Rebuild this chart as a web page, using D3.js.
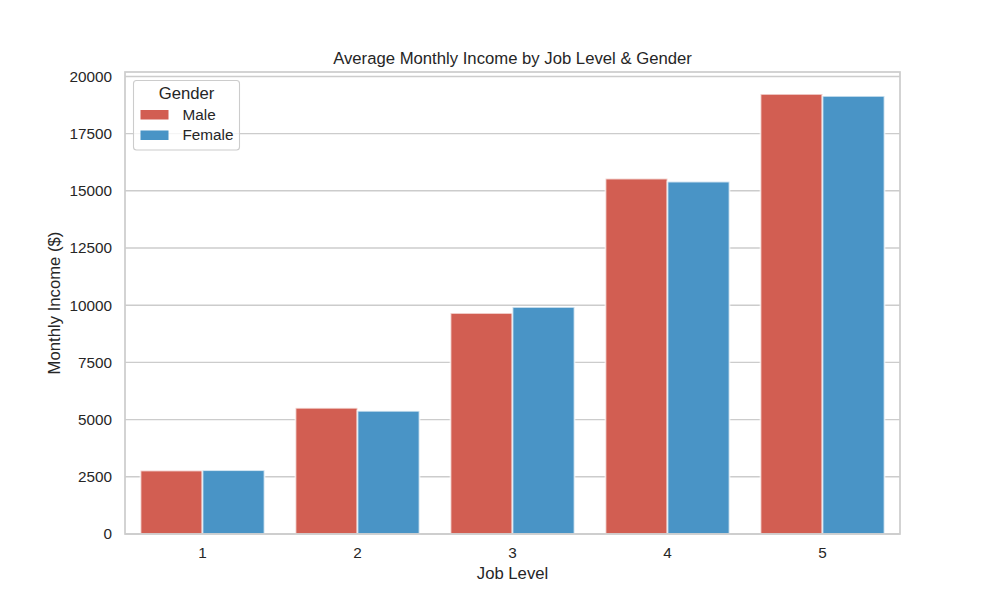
<!DOCTYPE html>
<html>
<head>
<meta charset="utf-8">
<script src="https://cdn.jsdelivr.net/npm/d3@7"></script>
<style>
  body { margin: 0; background: #fff; }
  svg { font-family: "Liberation Sans", Arial, sans-serif; }
</style>
</head>
<body>
<svg id="chart" width="1000" height="600"></svg>
<script>
const jobLevels = ["1", "2", "3", "4", "5"];
const genders = ["Male", "Female"];
const maleIncome = [2775, 5513, 9658, 15535, 19232];
const femaleIncome = [2790, 5381, 9921, 15403, 19145];
const yTicks = [0, 2500, 5000, 7500, 10000, 12500, 15000, 17500, 20000];
const genderColors = ["#d25e52", "#4994c6"];
const titleText = "Average Monthly Income by Job Level & Gender";
const xLabel = "Job Level";
const yLabel = "Monthly Income ($)";
const legendTitle = "Gender";

const rows = jobLevels.map((lvl, i) => ({ level: lvl, values: [maleIncome[i], femaleIncome[i]] }));

const svg = d3.select("#chart");
const M = { left: 125, right: 900, top: 72, bottom: 534 };
const textColor = "#262626";
const gridColor = "#cccccc";

const yMax = d3.max(maleIncome.concat(femaleIncome)) * 1.05;
const y = d3.scaleLinear().domain([0, yMax]).range([M.bottom, M.top]);
const x = d3.scaleBand().domain(jobLevels).range([M.left, M.right]).paddingInner(0.2).paddingOuter(0.1);
const xg = d3.scaleBand().domain(genders).range([0, x.bandwidth()]);
const color = d3.scaleOrdinal().domain(genders).range(genderColors);

// gridlines
svg.append("g").selectAll("line").data(yTicks).join("line")
  .attr("x1", M.left).attr("x2", M.right)
  .attr("y1", d => y(d)).attr("y2", d => y(d))
  .attr("stroke", gridColor).attr("stroke-width", 1.4);

// bars
const groups = svg.append("g").selectAll("g").data(rows).join("g")
  .attr("transform", d => `translate(${x(d.level)},0)`);
groups.selectAll("rect").data(d => d.values.map((v, j) => ({ g: genders[j], v })))
  .join("rect")
  .attr("x", d => xg(d.g))
  .attr("width", xg.bandwidth())
  .attr("y", d => y(d.v))
  .attr("height", d => y(0) - y(d.v))
  .attr("fill", d => color(d.g))
  .attr("stroke", "#ffffff").attr("stroke-opacity", 0.7).attr("stroke-width", 1.8);

// spines
svg.append("rect")
  .attr("x", M.left).attr("y", M.top)
  .attr("width", M.right - M.left).attr("height", M.bottom - M.top)
  .attr("fill", "none").attr("stroke", gridColor).attr("stroke-width", 1.7);

// axes
const yAxis = svg.append("g").attr("transform", `translate(${M.left},0)`)
  .call(d3.axisLeft(y).tickValues(yTicks).tickSize(0).tickPadding(13).tickFormat(d3.format("d")));
const xAxis = svg.append("g").attr("transform", `translate(0,${M.bottom})`)
  .call(d3.axisBottom(x).tickSize(0).tickPadding(13));
[yAxis, xAxis].forEach(a => {
  a.select(".domain").remove();
  a.selectAll("text").attr("fill", textColor).style("font-size", "15.3px")
    .style("font-family", "'Liberation Sans', Arial, sans-serif");
});

// title and labels
svg.append("text").attr("x", (M.left + M.right) / 2).attr("y", 64)
  .attr("text-anchor", "middle").attr("fill", textColor).style("font-size", "16.7px")
  .text(titleText);
svg.append("text").attr("x", (M.left + M.right) / 2).attr("y", 579)
  .attr("text-anchor", "middle").attr("fill", textColor).style("font-size", "16.7px")
  .text(xLabel);
svg.append("text").attr("transform", `translate(60,${(M.top + M.bottom) / 2}) rotate(-90)`)
  .attr("text-anchor", "middle").attr("fill", textColor).style("font-size", "16.7px")
  .text(yLabel);

// legend
const lg = svg.append("g");
lg.append("rect").attr("x", 133.5).attr("y", 80.5).attr("width", 106).attr("height", 69.5)
  .attr("rx", 3).attr("fill", "#ffffff").attr("fill-opacity", 0.8)
  .attr("stroke", gridColor).attr("stroke-width", 1.1);
lg.append("text").attr("x", 186.5).attr("y", 98.5).attr("text-anchor", "middle")
  .attr("fill", textColor).style("font-size", "16.7px").text(legendTitle);
genders.forEach((g, i) => {
  lg.append("rect").attr("x", 140.5).attr("y", 110 + i * 20.5).attr("width", 28).attr("height", 9.5)
    .attr("fill", color(g));
  lg.append("text").attr("x", 182.5).attr("y", 119.5 + i * 20.5)
    .attr("fill", textColor).style("font-size", "15.3px").text(g);
});
</script>
</body>
</html>
